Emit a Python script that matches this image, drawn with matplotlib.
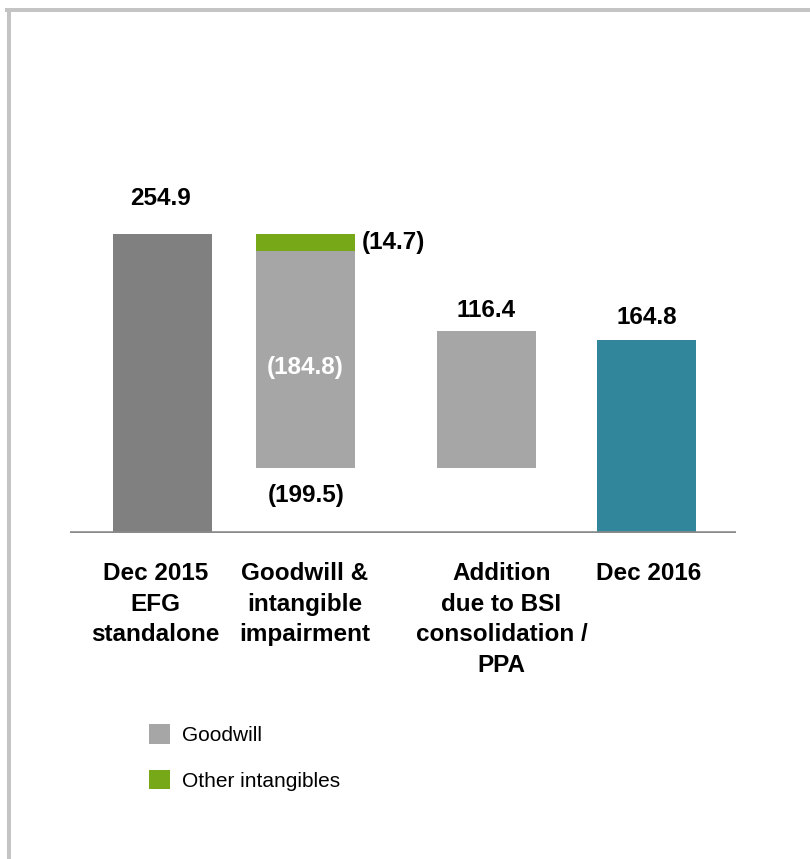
import matplotlib
matplotlib.use("Agg")
import matplotlib.pyplot as plt
from matplotlib.patches import Patch
from matplotlib.lines import Line2D

# ---- data (CHF m) ----
categories = ["Dec 2015\nEFG\nstandalone",
              "Goodwill &\nintangible\nimpairment",
              "Addition\ndue to BSI\nconsolidation /\nPPA",
              "Dec 2016"]
opening = 254.9
impairment_other = 14.7      # other intangibles written off
impairment_goodwill = 184.8  # goodwill written off
impairment_total = 199.5
addition = 116.4
closing = 164.8
legend_labels = ["Goodwill", "Other intangibles"]

# ---- style ----
C_START = "#808080"
C_GOODWILL = "#a6a6a6"
C_OTHER = "#76a817"
C_END = "#31869b"
FONT = "Liberation Sans"

W, H = 810, 859
fig = plt.figure(figsize=(W / 100, H / 100), dpi=100)
fig.patch.set_facecolor("white")

# frame lines along top and left edge
fig.add_artist(Line2D([5 / W, 1], [1 - 10 / H, 1 - 10 / H], transform=fig.transFigure,
                      color="#c4c4c4", lw=2.9, solid_capstyle="butt"))
fig.add_artist(Line2D([9 / W, 9 / W], [0, 1 - 8 / H], transform=fig.transFigure,
                      color="#c4c4c4", lw=2.9, solid_capstyle="butt"))

ax = fig.add_axes([70 / W, (H - 533) / H, 666 / W, 433 / H])
ax.set_xlim(0, 666)
ax.set_ylim(0, 369.1)
for s in ax.spines.values():
    s.set_visible(False)
ax.set_xticks([])
ax.set_yticks([])

xpos = [92.5, 235.5, 416.5, 576.5]
bw = 99

# bars of the waterfall
after_other = opening - impairment_other
after_goodwill = after_other - impairment_goodwill
ax.bar(xpos[0], opening, bw, color=C_START, zorder=2)
ax.bar(xpos[1], impairment_other, bw, bottom=after_other, color=C_OTHER, zorder=2)
ax.bar(xpos[1], impairment_goodwill, bw, bottom=after_goodwill, color=C_GOODWILL, zorder=2)
ax.bar(xpos[2], addition, bw, bottom=after_goodwill, color=C_GOODWILL, zorder=2)
ax.bar(xpos[3], closing, bw, color=C_END, zorder=2)

ax.axhline(0, color="#8a8a8a", lw=2.6, zorder=3)

bold = dict(family=FONT, fontsize=17.5, fontweight="bold", color="black")


def label(text, x, y, dx, dy, ha="center", va="center", **kw):
    style = dict(bold)
    style.update(kw)
    ax.annotate(text, xy=(x, y), xytext=(dx, dy), textcoords="offset pixels",
                ha=ha, va=va, annotation_clip=False, **style)


label(f"{opening:.1f}", xpos[0], opening, -2, 35)
label(f"({impairment_other:.1f})", xpos[1] + bw / 2, opening - impairment_other / 2, 7, 0, ha="left")
label(f"({impairment_goodwill:.1f})", xpos[1], after_goodwill + impairment_goodwill / 2, 0, -8,
      color="white")
label(f"({impairment_total:.1f})", xpos[1], after_goodwill, 1, -27)
label(f"{addition:.1f}", xpos[2], after_goodwill + addition, 0, 21)
label(f"{closing:.1f}", xpos[3], closing, 0, 22)

# category names under the baseline
cat_dx = [-7, -1, 15, 2]
for x, dx, name in zip(xpos, cat_dx, categories):
    ax.annotate(name, xy=(x, 0), xytext=(dx, -29), textcoords="offset pixels",
                ha="center", va="top", multialignment="center", linespacing=1.42,
                annotation_clip=False, **bold)

handles = [Patch(facecolor=C_GOODWILL, edgecolor="none"),
           Patch(facecolor=C_OTHER, edgecolor="none")]
fig.legend(handles, legend_labels, loc="upper left",
           bbox_to_anchor=(143 / W, 1 - 718 / H), frameon=False,
           prop=dict(family=FONT, size=15), handlelength=1.0, handleheight=1.05,
           handletextpad=0.55, labelspacing=1.2, borderaxespad=0, borderpad=0.3)

fig.savefig("out.png", dpi=100, facecolor="white")
